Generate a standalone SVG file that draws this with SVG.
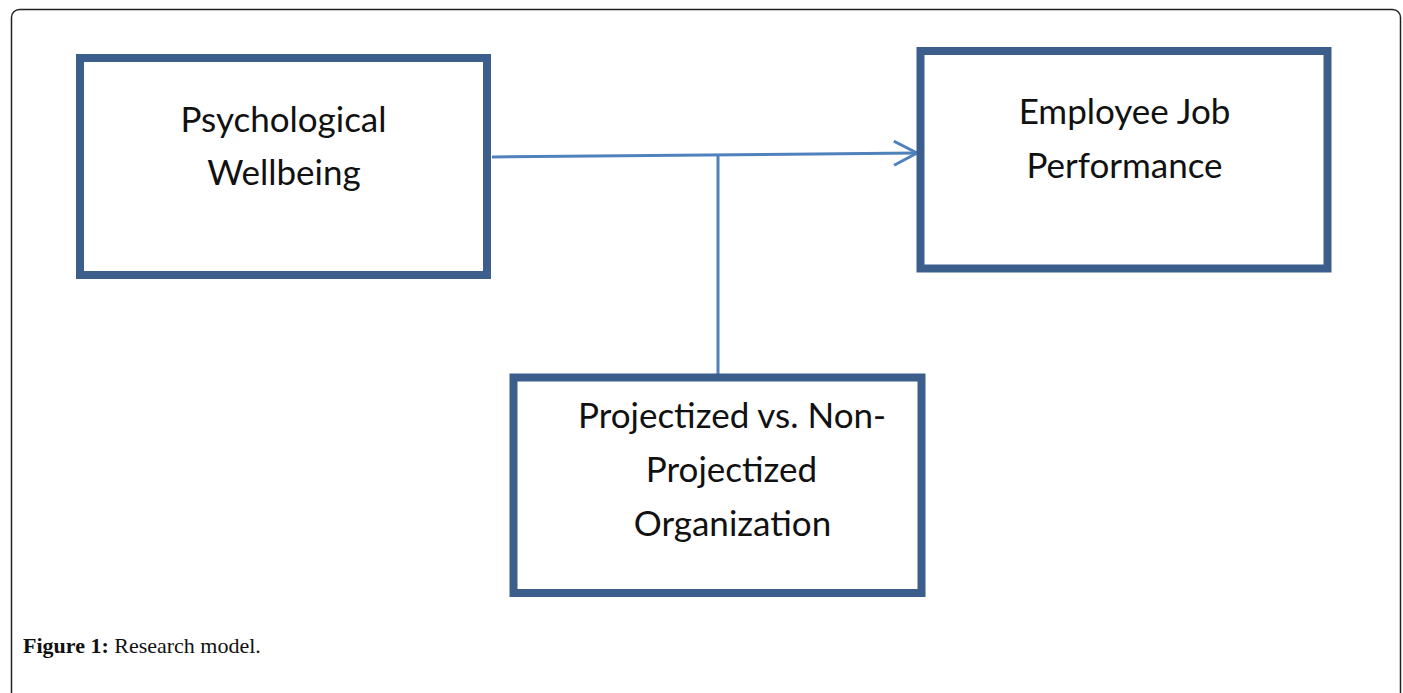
<svg xmlns="http://www.w3.org/2000/svg" width="1403" height="693" viewBox="0 0 1403 693">
  <style>
    .box { fill: #ffffff; stroke: #3b5e8c; stroke-width: 8; }
    .lbl { font-family: Lato, "Open Sans", sans-serif; font-size: 35px; fill: #111111; text-anchor: middle; }
    .conn { fill: none; stroke: #4f81bd; stroke-width: 3; }
    .cap { font-family: "Liberation Serif", serif; font-size: 22px; fill: #111111; }
  </style>
  <defs>
    <marker id="arrow" markerUnits="userSpaceOnUse" markerWidth="30" markerHeight="30" refX="25" refY="13" orient="auto">
      <path d="M2,1 L25,13 L2,25" fill="none" stroke="#4f81bd" stroke-width="3"/>
    </marker>
  </defs>
  <rect x="0" y="0" width="1403" height="693" fill="#ffffff"/>
  <rect x="11.5" y="9.5" width="1389" height="700" rx="8" ry="8" fill="none" stroke="#222222" stroke-width="1.5"/>

  <g id="connectors">
    <line class="conn" x1="492" y1="157" x2="917" y2="153" marker-end="url(#arrow)"/>
    <line class="conn" x1="718" y1="155" x2="718" y2="374"/>
  </g>

  <g id="node-psych">
    <rect class="box" x="80" y="58" width="407" height="217"/>
    <text class="lbl" x="283.5" y="132">Psychological</text>
    <text class="lbl" x="284" y="185">Wellbeing</text>
  </g>

  <g id="node-perf">
    <rect class="box" x="920.5" y="51" width="407" height="217.5"/>
    <text class="lbl" x="1124.5" y="124">Employee Job</text>
    <text class="lbl" x="1124.5" y="178">Performance</text>
  </g>

  <g id="node-org">
    <rect class="box" x="513.5" y="377.5" width="408" height="215.5"/>
    <text class="lbl" x="732" y="428">Projectized vs. Non-</text>
    <text class="lbl" x="731.5" y="482">Projectized</text>
    <text class="lbl" x="732.5" y="536">Organization</text>
  </g>

  <text class="cap" x="23" y="653"><tspan font-weight="bold">Figure 1:</tspan> Research model.</text>
</svg>
